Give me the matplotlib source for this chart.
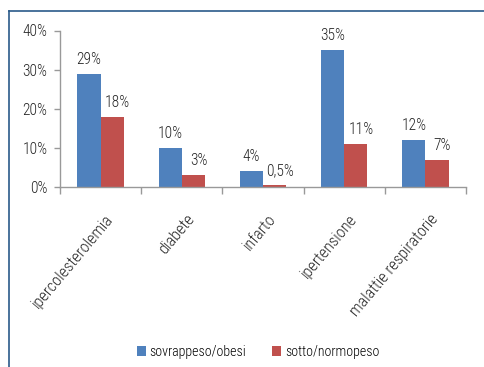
import numpy as np
import matplotlib.pyplot as plt
from matplotlib.lines import Line2D

plt.rcParams['font.family'] = ['Roboto Condensed', 'Archivo Narrow', 'Carlito', 'DejaVu Sans']
plt.rcParams['font.weight'] = 'light'

categories = ['ipercolesterolemia', 'diabete', 'infarto', 'ipertensione', 'malattie respiratorie']
sovrappeso = [29, 10, 4, 35, 12]
normopeso = [18, 3, 0.5, 11, 7]
labels_sovr = ['29%', '10%', '4%', '35%', '12%']
labels_norm = ['18%', '3%', '0,5%', '11%', '7%']

W, H = 484, 367
fig = plt.figure(figsize=(W / 100, H / 100), dpi=100)
ax = fig.add_axes([60 / W, 1 - 187 / H, (466 - 60) / W, (187 - 30.5) / H])

blue = '#4f81bd'
red = '#c0504d'
txt = '#262626'
fs = 11.2
bw = 0.285
x = np.arange(len(categories))

b1 = ax.bar(x - bw / 2, sovrappeso, bw, color=blue, label='sovrappeso/obesi')
b2 = ax.bar(x + bw / 2, normopeso, bw, color=red, label='sotto/normopeso')

for rect, lab in zip(b1, labels_sovr):
    ax.annotate(lab, (rect.get_x() + rect.get_width() / 2, rect.get_height()),
                xytext=(0, 5), textcoords='offset points', ha='center', va='bottom',
                fontsize=fs, color=txt)
for rect, lab in zip(b2, labels_norm):
    ax.annotate(lab, (rect.get_x() + rect.get_width() / 2, rect.get_height()),
                xytext=(4, 5), textcoords='offset points', ha='center', va='bottom',
                fontsize=fs, color=txt)

ax.set_ylim(0, 40)
ax.set_xlim(-0.5, len(categories) - 1 + bw)
ax.set_yticks([0, 10, 20, 30, 40])
ax.set_yticklabels(['0%', '10%', '20%', '30%', '40%'], fontsize=fs, color=txt)

# category separators as ticks, names placed at group centres
ax.set_xticks(np.arange(len(categories) + 1) - 0.5)
ax.set_xticklabels([])
ax.tick_params(axis='x', length=5, color='#999999', width=1)
ax.tick_params(axis='y', length=4, color='#999999', width=1, pad=5)
for xi, name in zip(x, categories):
    ax.text(xi + 0.05, -6.3, name, rotation=50, rotation_mode='anchor',
            ha='right', va='top', fontsize=11.8, color=txt)

for s in ['top', 'right']:
    ax.spines[s].set_visible(False)
for s in ['left', 'bottom']:
    ax.spines[s].set_color('#999999')
    ax.spines[s].set_linewidth(1)

fig.legend(handles=[b1, b2], loc='center', bbox_to_anchor=(258 / W, 1 - 352 / H),
           ncol=2, frameon=False, fontsize=10, handlelength=0.65, handleheight=0.65,
           handletextpad=0.25, columnspacing=1.9)

# outer chart frame
fig.add_artist(Line2D([9 / W, 1], [1 - 11 / H, 1 - 11 / H], color='#2a5a8a', lw=1.2))
fig.add_artist(Line2D([9 / W, 9 / W], [0, 1 - 11 / H], color='#2a5a8a', lw=1.2))

fig.savefig('out.png', dpi=100)
